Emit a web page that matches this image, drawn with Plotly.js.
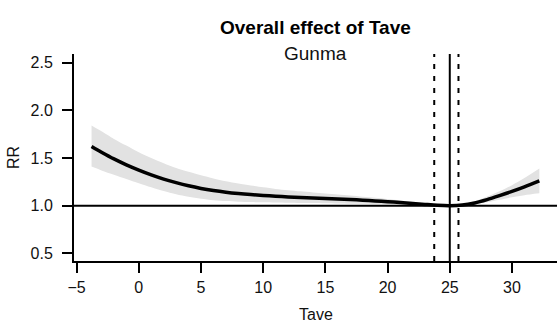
<!DOCTYPE html>
<html>
<head>
<meta charset="utf-8">
<script src="https://cdn.plot.ly/plotly-3.0.1.min.js"></script>
<style>
  html, body { margin: 0; padding: 0; background: #fff; }
  #chart { width: 557px; height: 323px; }
</style>
</head>
<body>
<div id="chart"></div>
<script>
// Overall cumulative temperature–mortality association (relative risk) for Gunma
const tave = [-3.8, -3, -2, -1, 0, 1, 2, 3, 4, 5, 6, 7, 8, 9, 10, 11, 12, 13, 14, 15,
              16, 17, 18, 19, 20, 21, 22, 23, 24, 25, 26, 27, 28, 29, 30, 31, 32.2];
const rr = [1.62, 1.56, 1.49, 1.428, 1.373, 1.323, 1.279, 1.241, 1.208, 1.181, 1.159, 1.141,
            1.127, 1.116, 1.107, 1.099, 1.092, 1.086, 1.081, 1.076, 1.071, 1.065, 1.058, 1.05,
            1.042, 1.033, 1.023, 1.013, 1.004, 1.0, 1.006, 1.028, 1.063, 1.105, 1.15, 1.198, 1.26];
const rrHigh = [1.84, 1.78, 1.70, 1.63, 1.56, 1.50, 1.445, 1.395, 1.355, 1.318, 1.285, 1.256,
                1.232, 1.211, 1.192, 1.176, 1.162, 1.15, 1.139, 1.128, 1.117, 1.106, 1.094, 1.082,
                1.069, 1.055, 1.04, 1.025, 1.009, 1.0, 1.013, 1.046, 1.095, 1.152, 1.215, 1.29, 1.39];
const rrLow = [1.41, 1.37, 1.325, 1.28, 1.235, 1.192, 1.153, 1.12, 1.093, 1.073, 1.058, 1.048,
               1.042, 1.038, 1.035, 1.033, 1.031, 1.029, 1.027, 1.025, 1.023, 1.021, 1.019, 1.017,
               1.015, 1.012, 1.008, 1.003, 1.0, 1.0, 1.003, 1.014, 1.036, 1.062, 1.088, 1.11, 1.13];

// Minimum mortality temperature and its confidence limits
const mmt = 25.0;
const mmtLow = 23.75;
const mmtHigh = 25.7;

const xTicks = [-5, 0, 5, 10, 15, 20, 25, 30];
const yTicks = [0.5, 1.0, 1.5, 2.0, 2.5];

const FONT = 'Liberation Sans, Arial, Helvetica, sans-serif';
const INK = '#111111';

const traces = [
  { x: tave, y: rrLow, mode: 'lines', line: { width: 0, color: 'rgba(0,0,0,0)', shape: 'spline', smoothing: 0.8 },
    hoverinfo: 'skip', showlegend: false },
  { x: tave, y: rrHigh, mode: 'lines', line: { width: 0, color: 'rgba(0,0,0,0)', shape: 'spline', smoothing: 0.8 },
    fill: 'tonexty', fillcolor: '#e2e2e2', hoverinfo: 'skip', showlegend: false },
  { x: tave, y: rr, mode: 'lines', line: { width: 3.5, color: '#000', shape: 'spline', smoothing: 0.8 },
    showlegend: false }
];

function vline(x, dash) {
  return { type: 'line', xref: 'x', yref: 'paper', x0: x, x1: x, y0: 0, y1: 1,
           line: { color: '#000', width: 2, dash: dash } };
}

const layout = {
  width: 557, height: 323,
  margin: { l: 74, r: 0, t: 54, b: 62 },
  paper_bgcolor: '#fff', plot_bgcolor: '#fff',
  font: { family: FONT, color: INK, size: 16 },
  showlegend: false,
  xaxis: {
    range: [-5.21, 33.62],
    tickvals: xTicks,
    ticktext: xTicks.map(v => v < 0 ? '\u2212' + Math.abs(v) : String(v)),
    showgrid: false, zeroline: false,
    showline: true, linecolor: '#000', linewidth: 2,
    ticks: 'outside', ticklen: 10, tickwidth: 2, tickcolor: '#000',
    ticklabelstandoff: 1,
    tickfont: { family: FONT, size: 16, color: INK }
  },
  yaxis: {
    range: [0.42, 2.59],
    tickvals: yTicks,
    ticktext: yTicks.map(v => v.toFixed(1)),
    showgrid: false, zeroline: false,
    showline: true, linecolor: '#000', linewidth: 2,
    ticks: 'outside', ticklen: 10, tickwidth: 2, tickcolor: '#000',
    ticklabelstandoff: 6,
    tickfont: { family: FONT, size: 16, color: INK },
    title: { text: 'RR', font: { family: FONT, size: 16, color: INK }, standoff: 7 }
  },
  shapes: [
    { type: 'line', xref: 'paper', yref: 'y', x0: 0, x1: 1, y0: 1, y1: 1,
      line: { color: '#000', width: 2 } },
    vline(mmt, 'solid'),
    vline(mmtLow, '5px,7px'),
    vline(mmtHigh, '5px,7px')
  ],
  annotations: [
    { xref: 'paper', yref: 'paper', x: 0.5, y: 1, yshift: 27, xanchor: 'center', yanchor: 'middle',
      text: '<b>Overall effect of Tave</b>', showarrow: false,
      font: { family: FONT, size: 19, color: '#000' } },
    { xref: 'paper', yref: 'paper', x: 0.5, y: 1, yshift: 1, xanchor: 'center', yanchor: 'middle',
      text: 'Gunma', showarrow: false,
      font: { family: FONT, size: 19, color: INK } },
    // x-axis title, sitting at the lower edge of the figure
    { xref: 'paper', yref: 'paper', x: 0.5, y: 0, yshift: -53, xanchor: 'center', yanchor: 'middle',
      text: 'Tave', showarrow: false,
      font: { family: FONT, size: 16, color: INK } }
  ]
};

Plotly.newPlot('chart', traces, layout, { staticPlot: true, displayModeBar: false });
</script>
</body>
</html>
